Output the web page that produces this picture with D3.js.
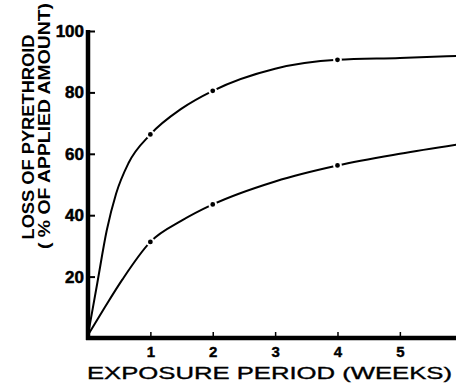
<!DOCTYPE html>
<html>
<head>
<meta charset="utf-8">
<script src="https://cdn.jsdelivr.net/npm/d3@7"></script>
<style>
  body { margin: 0; background: #fff; }
  svg { display: block; }
</style>
</head>
<body>
<div id="vis"></div>
<script>
// weeks and % loss
const upperWeeks = [0, 0.15, 0.3, 0.45, 0.65, 1, 1.5, 2, 3, 4, 5, 5.92]
const upperLoss  = [1, 18, 35, 47, 57, 66.3, 74.7, 80.5, 87.7, 90.6, 91.2, 91.9]
const lowerWeeks = [0, 0.27, 0.55, 1, 1.5, 2, 3, 4, 5, 5.92]
const lowerLoss  = [1, 10, 19, 31.3, 38.2, 43.5, 51, 56.2, 60, 63]

// measured points (dots)
const markerWeeks = [1, 2, 4]
const upperMarkers = [66.3, 80.5, 90.6]
const lowerMarkers = [31.3, 43.5, 56.2]

const xTicks = [1, 2, 3, 4, 5]
const yTicks = [20, 40, 60, 80, 100]

const width = 456, height = 383
const margin = { left: 88, right: 0, top: 31, bottom: 45 }
const font = '"Liberation Sans", Arial, sans-serif'

const svg = d3.select('#vis').append('svg')
  .attr('width', width)
  .attr('height', height)
  .style('font-family', font)

const xScale = d3.scaleLinear()
  .domain([0, 5.9])
  .range([margin.left, width - margin.right])

const yScale = d3.scaleLinear()
  .domain([0, 100])
  .range([height - margin.bottom, margin.top])

// curves
const line = d3.line()
  .x(d => xScale(d[0]))
  .y(d => yScale(d[1]))
  .curve(d3.curveMonotoneX)

const curves = [
  d3.zip(upperWeeks, upperLoss),
  d3.zip(lowerWeeks, lowerLoss)
]

svg.append('g').selectAll('path')
  .data(curves)
  .enter()
  .append('path')
  .attr('d', line)
  .attr('fill', 'none')
  .attr('stroke', '#000')
  .attr('stroke-width', 2)

// dots with a small white gap round them
const markers = []
markerWeeks.forEach((w, i) => {
  markers.push([w, upperMarkers[i]])
  markers.push([w, lowerMarkers[i]])
})

svg.append('g').selectAll('circle')
  .data(markers)
  .enter()
  .append('circle')
  .attr('cx', d => xScale(d[0]))
  .attr('cy', d => yScale(d[1]))
  .attr('r', 3.4)
  .attr('fill', '#000')
  .attr('stroke', '#fff')
  .attr('stroke-width', 2)

// y axis, ticks point into the plot
const yAxis = svg.append('g')
  .attr('transform', `translate(${margin.left},0)`)
  .call(d3.axisLeft(yScale).tickValues(yTicks).tickFormat(d3.format('d'))
    .tickSize(-7).tickSizeOuter(0).tickPadding(4))

yAxis.select('.domain')
  .attr('d', `M0,${yScale(100) - 1}V${yScale(0) + 2}`)
  .attr('stroke-width', 4.5)
yAxis.selectAll('.tick line').attr('stroke-width', 2)
yAxis.selectAll('.tick text')
  .style('font-family', font)
  .style('font-size', '17px')
  .style('font-weight', 'bold')
  .attr('stroke', '#000')
  .attr('stroke-width', 0.5)

// x axis
const xAxis = svg.append('g')
  .attr('transform', `translate(0,${yScale(0)})`)
  .call(d3.axisBottom(xScale).tickValues(xTicks).tickFormat(d3.format('d'))
    .tickSize(-6).tickSizeOuter(0).tickPadding(8))

xAxis.select('.domain')
  .attr('d', `M${margin.left - 2},0H${width}`)
  .attr('stroke-width', 4.5)
xAxis.selectAll('.tick line').attr('stroke-width', 1.5)
xAxis.selectAll('.tick text')
  .style('font-family', font)
  .style('font-size', '15px')
  .style('font-weight', 'bold')
  .attr('stroke', '#000')
  .attr('stroke-width', 0.4)

// axis titles
svg.append('text')
  .attr('x', 87)
  .attr('y', 379)
  .style('font-size', '17px')
  .attr('stroke', '#000')
  .attr('stroke-width', 0.35)
  .attr('textLength', 365)
  .attr('lengthAdjust', 'spacingAndGlyphs')
  .text('EXPOSURE PERIOD (WEEKS)')

const yTitle = svg.append('g')
  .style('font-size', '17px')
  .style('font-weight', 'bold')
  .attr('text-anchor', 'middle')

yTitle.append('text')
  .attr('transform', 'translate(34,137) rotate(-90)')
  .attr('textLength', 205)
  .attr('lengthAdjust', 'spacingAndGlyphs')
  .text('LOSS OF PYRETHROID')

yTitle.append('text')
  .attr('transform', 'translate(50,126) rotate(-90)')
  .attr('textLength', 246)
  .attr('lengthAdjust', 'spacingAndGlyphs')
  .text('( % OF APPLIED AMOUNT)')
</script>
</body>
</html>
